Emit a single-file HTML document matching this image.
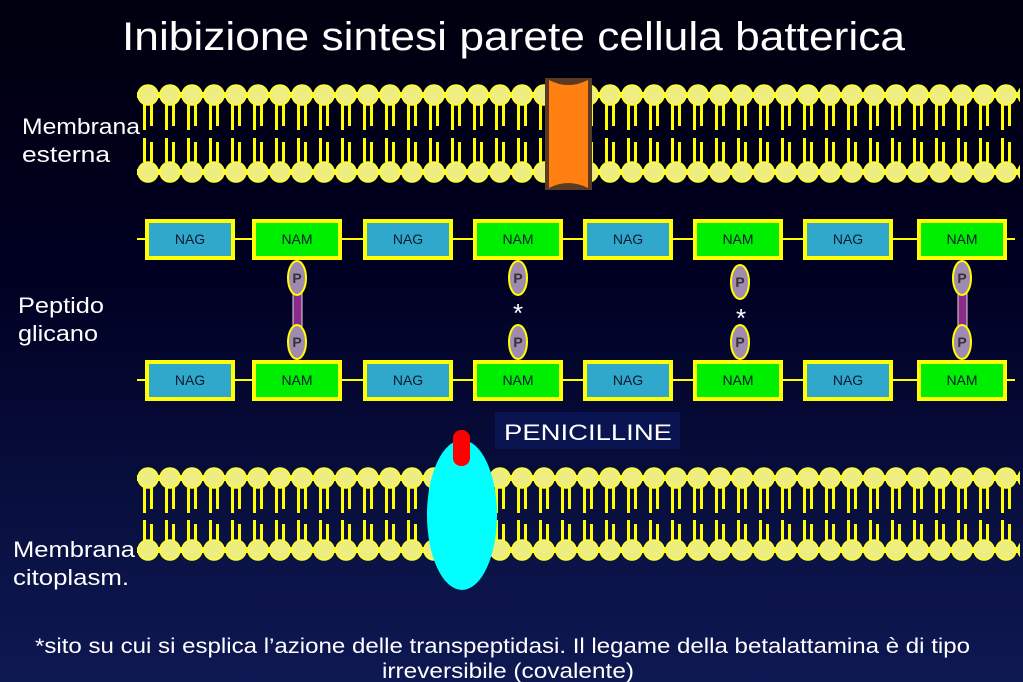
<!DOCTYPE html>
<html><head><meta charset="utf-8"><style>
html,body{margin:0;padding:0;width:1023px;height:682px;overflow:hidden;background:linear-gradient(#00000e,#000022 40%,#0a1244 80%,#0e1852);}
svg{display:block}
</style></head><body>
<svg width="1023" height="682" xmlns="http://www.w3.org/2000/svg" font-family="'Liberation Sans', sans-serif">
<defs>
<pattern id="headT" x="137" y="0" width="22" height="682" patternUnits="userSpaceOnUse">
<rect x="0" y="92" width="22" height="6" fill="#ffff00"/>
<circle cx="11" cy="95" r="10" fill="#eeee80" stroke="#ffff30" stroke-width="1.5"/>
<rect x="6" y="104" width="3" height="26" fill="#ffff00"/>
<rect x="13" y="104" width="3" height="22" fill="#ffff00"/>
<rect x="6" y="138" width="3" height="24" fill="#ffff00"/>
<rect x="13" y="142" width="3" height="20" fill="#ffff00"/>
<rect x="0" y="169" width="22" height="6" fill="#ffff00"/>
<circle cx="11" cy="172" r="10" fill="#eeee80" stroke="#ffff30" stroke-width="1.5"/>
</pattern>
<pattern id="headB" x="137" y="0" width="22" height="682" patternUnits="userSpaceOnUse">
<rect x="0" y="475" width="22" height="6" fill="#ffff00"/>
<circle cx="11" cy="478" r="10" fill="#eeee80" stroke="#ffff30" stroke-width="1.5"/>
<rect x="6" y="487" width="3" height="26" fill="#ffff00"/>
<rect x="13" y="487" width="3" height="22" fill="#ffff00"/>
<rect x="6" y="520" width="3" height="24" fill="#ffff00"/>
<rect x="13" y="524" width="3" height="20" fill="#ffff00"/>
<rect x="0" y="547" width="22" height="6" fill="#ffff00"/>
<circle cx="11" cy="550" r="10" fill="#eeee80" stroke="#ffff30" stroke-width="1.5"/>
</pattern>
</defs>
<text x="122" y="50" textLength="783" lengthAdjust="spacingAndGlyphs" fill="#fff" font-size="40">Inibizione sintesi parete cellula batterica</text>

<rect x="137" y="80" width="883" height="105" fill="url(#headT)"/>
<rect x="137" y="463" width="883" height="100" fill="url(#headB)"/>

<!-- porin -->
<rect x="545" y="78" width="47" height="112" fill="#5a3a20"/>
<path d="M549 80 Q568 90 588 80 L588 188 Q568 178 549 188 Z" fill="#ff8010"/>

<!-- peptidoglycan lines -->
<line x1="137" y1="239" x2="1015" y2="239" stroke="#ffff00" stroke-width="2"/>
<line x1="137" y1="380" x2="1015" y2="380" stroke="#ffff00" stroke-width="2"/>
<g font-size="14" text-anchor="middle" fill="#0a1a30">
<g stroke="#ffff00" stroke-width="4">
<rect x="147" y="221" width="86" height="37" fill="#30a8cc"/>
<rect x="254" y="221" width="86" height="37" fill="#00ee00"/>
<rect x="365" y="221" width="86" height="37" fill="#30a8cc"/>
<rect x="475" y="221" width="86" height="37" fill="#00ee00"/>
<rect x="585" y="221" width="86" height="37" fill="#30a8cc"/>
<rect x="695" y="221" width="86" height="37" fill="#00ee00"/>
<rect x="805" y="221" width="86" height="37" fill="#30a8cc"/>
<rect x="919" y="221" width="86" height="37" fill="#00ee00"/>
<rect x="147" y="362" width="86" height="37" fill="#30a8cc"/>
<rect x="254" y="362" width="86" height="37" fill="#00ee00"/>
<rect x="365" y="362" width="86" height="37" fill="#30a8cc"/>
<rect x="475" y="362" width="86" height="37" fill="#00ee00"/>
<rect x="585" y="362" width="86" height="37" fill="#30a8cc"/>
<rect x="695" y="362" width="86" height="37" fill="#00ee00"/>
<rect x="805" y="362" width="86" height="37" fill="#30a8cc"/>
<rect x="919" y="362" width="86" height="37" fill="#00ee00"/>
</g>
<text x="190" y="244">NAG</text><text x="297" y="244">NAM</text><text x="408" y="244">NAG</text><text x="518" y="244">NAM</text>
<text x="628" y="244">NAG</text><text x="738" y="244">NAM</text><text x="848" y="244">NAG</text><text x="962" y="244">NAM</text>
<text x="190" y="385">NAG</text><text x="297" y="385">NAM</text><text x="408" y="385">NAG</text><text x="518" y="385">NAM</text>
<text x="628" y="385">NAG</text><text x="738" y="385">NAM</text><text x="848" y="385">NAG</text><text x="962" y="385">NAM</text>
</g>

<!-- crosslinks -->
<g>
<rect x="293" y="290" width="9" height="45" fill="#8a2a8a" stroke="#ddd" stroke-width="1"/>
<rect x="958" y="290" width="9" height="45" fill="#8a2a8a" stroke="#ddd" stroke-width="1"/>
<g fill="#a08ab0" stroke="#ffff00" stroke-width="2">
<ellipse cx="297" cy="278" rx="9" ry="17"/><ellipse cx="297" cy="342" rx="9" ry="17"/>
<ellipse cx="518" cy="278" rx="9" ry="17"/><ellipse cx="518" cy="342" rx="9" ry="17"/>
<ellipse cx="740" cy="282" rx="9" ry="17"/><ellipse cx="740" cy="342" rx="9" ry="17"/>
<ellipse cx="962" cy="278" rx="9" ry="17"/><ellipse cx="962" cy="342" rx="9" ry="17"/>
</g>
<g fill="#333" font-size="14" text-anchor="middle" font-weight="bold">
<text x="297" y="283">P</text><text x="297" y="347">P</text><text x="518" y="283">P</text><text x="518" y="347">P</text>
<text x="740" y="287">P</text><text x="740" y="347">P</text><text x="962" y="283">P</text><text x="962" y="347">P</text>
</g>
<text x="518" y="322" fill="#fff" font-size="26" text-anchor="middle">*</text>
<text x="741" y="327" fill="#fff" font-size="26" text-anchor="middle">*</text>
</g>

<!-- penicilline -->
<rect x="495" y="412" width="185" height="37" fill="#0a1450"/>
<text x="504" y="440" textLength="168" lengthAdjust="spacingAndGlyphs" fill="#fff" font-size="22">PENICILLINE</text>
<ellipse cx="462" cy="515" rx="35" ry="75" fill="#00ffff"/>
<rect x="453" y="430" width="17" height="36" rx="8" fill="#ff0000"/>

<!-- side labels -->
<g fill="#fff" font-size="22">
<text x="22" y="134" textLength="118" lengthAdjust="spacingAndGlyphs">Membrana</text><text x="22" y="162" textLength="88" lengthAdjust="spacingAndGlyphs">esterna</text>
<text x="18" y="313" textLength="86" lengthAdjust="spacingAndGlyphs">Peptido</text><text x="18" y="341" textLength="80" lengthAdjust="spacingAndGlyphs">glicano</text>
<text x="13" y="557" textLength="122" lengthAdjust="spacingAndGlyphs">Membrana</text><text x="13" y="585" textLength="116" lengthAdjust="spacingAndGlyphs">citoplasm.</text>
</g>
<text x="35" y="653" textLength="935" lengthAdjust="spacingAndGlyphs" fill="#fff" font-size="21">*sito su cui si esplica l’azione delle transpeptidasi. Il legame della betalattamina è di tipo</text>
<text x="382" y="678" textLength="252" lengthAdjust="spacingAndGlyphs" fill="#fff" font-size="21">irreversibile (covalente)</text>
</svg>
</body></html>
